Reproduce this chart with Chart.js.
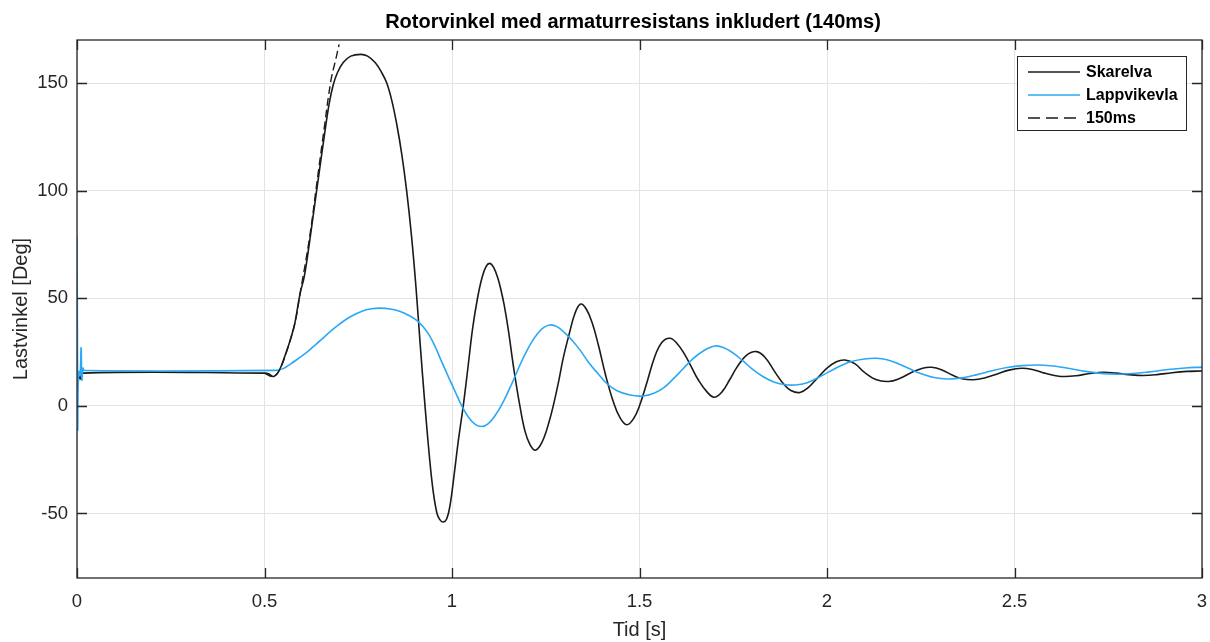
<!DOCTYPE html>
<html>
<head>
<meta charset="utf-8">
<title>Rotorvinkel med armaturresistans inkludert</title>
<script src="https://cdn.jsdelivr.net/npm/chart.js@4.4.1/dist/chart.umd.min.js"></script>
<style>
  html, body { margin: 0; padding: 0; background: #fff; }
  #wrap { width: 1210px; height: 642px; }
</style>
</head>
<body>
<div id="wrap"><canvas id="myChart" width="1210" height="642"></canvas></div>
<script>
var chartTitle = 'Rotorvinkel med armaturresistans inkludert (140ms)';
var xLabel = 'Tid [s]';
var yLabel = 'Lastvinkel [Deg]';
var seriesNames = ['Skarelva', 'Lappvikevla', '150ms'];
var xTicks = [0, 0.5, 1, 1.5, 2, 2.5, 3];
var yTicks = [-50, 0, 50, 100, 150];

// Skarelva (svart)
var tSkarelva = [0, 0.003, 0.006, 0.010, 0.015, 0.500, 0.512, 0.523, 0.532, 0.541, 0.552, 0.563, 0.572, 0.581,
    0.595, 0.606, 0.620, 0.639, 0.660, 0.672, 0.683, 0.695, 0.710, 0.730, 0.757, 0.775, 0.795, 0.812, 0.826,
    0.840, 0.853, 0.866, 0.879, 0.892, 0.904, 0.915, 0.928, 0.940, 0.950, 0.960, 0.968, 0.977, 0.986, 0.995,
    1.005, 1.017, 1.030, 1.042, 1.055, 1.068, 1.080, 1.091, 1.101, 1.111, 1.122, 1.131, 1.139, 1.150, 1.165,
    1.181, 1.195, 1.208, 1.221, 1.234, 1.246, 1.258, 1.270, 1.284, 1.297, 1.312, 1.328, 1.343, 1.358, 1.374,
    1.390, 1.410, 1.430, 1.448, 1.466, 1.484, 1.500, 1.520, 1.540, 1.560, 1.581, 1.600, 1.620, 1.640, 1.657,
    1.680, 1.699, 1.720, 1.740, 1.760, 1.785, 1.812, 1.835, 1.860, 1.885, 1.905, 1.928, 1.950, 1.975, 2.000,
    2.025, 2.048, 2.075, 2.100, 2.130, 2.164, 2.195, 2.225, 2.255, 2.279, 2.305, 2.335, 2.360, 2.390, 2.420,
    2.450, 2.485, 2.519, 2.550, 2.580, 2.610, 2.635, 2.665, 2.700, 2.737, 2.770, 2.805, 2.843, 2.880, 2.920,
    2.960, 3.000];
var vSkarelva = [15.5, 11.3, 14, 12.5, 15.2, 15.2, 14.8, 13.6, 14.6, 17.0, 22, 27.5, 32.5, 38.4,
    52.3, 60, 76, 100, 126, 140, 149, 155, 159.5, 162.5, 163.3, 162.5, 159.5, 155, 150,
    141.5, 130.5, 117, 100, 79, 55, 29, 0, -24, -40, -50, -53, -54, -52.5, -46,
    -33, -16, 0, 17, 36, 50, 59.5, 64.8, 66.2, 64.3, 59.5, 53.5, 47, 35.5, 17,
    0, -12, -18, -20.6, -18.8, -14.5, -8, 0, 11, 22.5, 33, 43, 47.3, 45, 38.5,
    28.5, 14, 2, -5.5, -8.8, -6, 0, 11, 22.5, 29.5, 31.4, 29, 24, 17.5, 12,
    6.5, 4.0, 6.5, 12, 18, 23.5, 25.2, 22.5, 16, 10, 7, 6.2, 8.5, 13, 17.5,
    20.5, 21.3, 19.5, 15.5, 12.2, 11.3, 12.8, 15.5, 17.5, 17.9, 16.8, 14.2, 12.6, 12.1, 12.9,
    14.6, 16.6, 17.5, 16.8, 15.2, 14, 13.6, 14, 15, 15.6, 15.2, 14.5, 14.1, 14.5, 15.4,
    16, 16.2];

// Lappvikevla (blaa)
var tLappvikevla = [0, 0.001, 0.002, 0.004, 0.008, 0.011, 0.013, 0.016, 0.020, 0.530, 0.550, 0.570, 0.590, 0.610,
    0.630, 0.650, 0.675, 0.700, 0.730, 0.760, 0.785, 0.810, 0.835, 0.860, 0.885, 0.910, 0.935, 0.955, 0.970,
    0.986, 1.006, 1.026, 1.045, 1.062, 1.079, 1.096, 1.115, 1.137, 1.160, 1.180, 1.195, 1.212, 1.230, 1.245,
    1.261, 1.280, 1.300, 1.320, 1.341, 1.365, 1.390, 1.412, 1.440, 1.475, 1.510, 1.540, 1.565, 1.590, 1.615,
    1.640, 1.670, 1.701, 1.725, 1.750, 1.775, 1.800, 1.830, 1.860, 1.890, 1.915, 1.945, 1.975, 2.005, 2.035,
    2.065, 2.100, 2.132, 2.160, 2.190, 2.220, 2.250, 2.285, 2.323, 2.360, 2.400, 2.440, 2.480, 2.520, 2.568,
    2.610, 2.650, 2.690, 2.730, 2.773, 2.815, 2.860, 2.910, 2.955, 3.000];
var vLappvikevla = [78.6, 40, -11, 16, 14, 27, 12, 17.5, 16.4, 16.5, 17.3, 19.5, 22, 24.5,
    27.5, 30.5, 34.5, 38, 41.5, 44, 45.1, 45.4, 45, 44, 42, 39.1, 34, 27.5, 21.5,
    15.2, 7.5, 0, -5.5, -8.6, -9.6, -8.4, -4.5, 2, 10.5, 18.5, 24, 29.5, 34, 36.5,
    37.6, 36.8, 34, 30.5, 26, 20, 14.8, 10.5, 7, 5, 4.6, 6, 8.5, 12.5, 17,
    21.5, 25.5, 27.8, 27, 24.5, 21, 17.2, 13.5, 11, 9.8, 9.7, 10.6, 13, 15.8, 18.5,
    20.6, 21.8, 22.1, 21.4, 19.6, 17.2, 15, 13.2, 12.5, 13, 14.5, 16.3, 17.8, 18.7, 19.0,
    18.4, 17.2, 16, 15.1, 14.7, 15, 15.8, 16.9, 17.6, 18.0];

// 150ms (stiplet)
var t150ms = [0.5, 0.523, 0.541, 0.563, 0.581, 0.595, 0.620, 0.640, 0.660, 0.677, 0.690, 0.699];
var v150ms = [15.2, 13.6, 17, 27.5, 38.4, 52.3, 78, 104, 130, 151, 161, 168];

var textColor = '#262626';
var fontFamily = '"Liberation Sans", Arial, Helvetica, sans-serif';
var lineColors = ['#1a1a1a', '#2ba8f5', '#1a1a1a'];

function toPoints(t, v) {
    var pts = [];
    for (var i = 0; i < t.length; i++) {
        pts.push({ x: t[i], y: v[i] });
    }
    return pts;
}

var framePlugin = {
    id: 'frame',
    afterDatasetsDraw: function (chart) {
        var ctx = chart.ctx;
        var a = chart.chartArea;
        var xs = chart.scales.x;
        var ys = chart.scales.y;
        ctx.save();

        // boks og ticks innover
        ctx.strokeStyle = textColor;
        ctx.lineWidth = 1.3;
        ctx.strokeRect(a.left, a.top, a.right - a.left, a.bottom - a.top);
        ctx.beginPath();
        xTicks.forEach(function (v) {
            var px = Math.round(xs.getPixelForValue(v)) + 0.5;
            ctx.moveTo(px, a.bottom); ctx.lineTo(px, a.bottom - 10);
            ctx.moveTo(px, a.top); ctx.lineTo(px, a.top + 10);
        });
        yTicks.forEach(function (v) {
            var py = Math.round(ys.getPixelForValue(v)) + 0.5;
            ctx.moveTo(a.left, py); ctx.lineTo(a.left + 10, py);
            ctx.moveTo(a.right, py); ctx.lineTo(a.right - 10, py);
        });
        ctx.stroke();

        // tittel
        ctx.fillStyle = '#000';
        ctx.font = 'bold 20px ' + fontFamily;
        ctx.textAlign = 'center';
        ctx.textBaseline = 'middle';
        ctx.fillText(chartTitle, 633, 22);

        // legend
        var lx = 1017, ly = 56, lw = 169, lh = 74;
        ctx.fillStyle = '#fff';
        ctx.fillRect(lx, ly, lw, lh);
        ctx.lineWidth = 1;
        ctx.strokeStyle = textColor;
        ctx.strokeRect(lx + 0.5, ly + 0.5, lw, lh);
        var rows = [72, 95, 118];
        ctx.font = 'bold 16px ' + fontFamily;
        ctx.textAlign = 'left';
        for (var i = 0; i < seriesNames.length; i++) {
            ctx.beginPath();
            ctx.strokeStyle = lineColors[i];
            ctx.lineWidth = 1.5;
            ctx.setLineDash(i === 2 ? [12, 6] : []);
            ctx.moveTo(1028, rows[i]);
            ctx.lineTo(1080, rows[i]);
            ctx.stroke();
            ctx.setLineDash([]);
            ctx.fillStyle = '#000';
            ctx.fillText(seriesNames[i], 1086, rows[i] + 1);
        }
        ctx.restore();
    }
};

var ctx1 = document.getElementById('myChart').getContext('2d');
var myChart = new Chart(ctx1, {
    type: 'line',
    data: {
        datasets: [{
            label: seriesNames[0],
            data: toPoints(tSkarelva, vSkarelva),
            borderColor: lineColors[0],
            borderWidth: 1.6,
            order: 3
        }, {
            label: seriesNames[1],
            data: toPoints(tLappvikevla, vLappvikevla),
            borderColor: lineColors[1],
            borderWidth: 1.6,
            order: 2
        }, {
            label: seriesNames[2],
            data: toPoints(t150ms, v150ms),
            borderColor: lineColors[2],
            borderWidth: 1.4,
            borderDash: [8, 4],
            order: 1
        }]
    },
    options: {
        responsive: false,
        animation: false,
        parsing: false,
        layout: { padding: { left: 0, top: 40, right: 8, bottom: 0 } },
        elements: {
            point: { radius: 0 },
            line: { tension: 0.4, fill: false }
        },
        plugins: {
            legend: { display: false },
            title: { display: false },
            tooltip: { enabled: false }
        },
        scales: {
            x: {
                type: 'linear',
                min: 0,
                max: 3,
                afterBuildTicks: function (scale) {
                    scale.ticks = xTicks.map(function (v) { return { value: v }; });
                },
                afterFit: function (scale) {
                    scale.height = 64;
                    scale.paddingLeft = 0;
                    scale.paddingRight = 0;
                },
                grid: { color: '#e3e3e3', lineWidth: 1, drawTicks: false },
                border: { display: false },
                ticks: {
                    color: textColor,
                    padding: 13,
                    maxRotation: 0,
                    font: { family: fontFamily, size: 18.5 },
                    callback: function (v) { return String(v); }
                },
                title: {
                    display: true,
                    text: xLabel,
                    color: textColor,
                    padding: { top: 0, bottom: 0 },
                    font: { family: fontFamily, size: 20 }
                }
            },
            y: {
                type: 'linear',
                min: -80,
                max: 170,
                afterBuildTicks: function (scale) {
                    scale.ticks = yTicks.map(function (v) { return { value: v }; });
                },
                afterFit: function (scale) { scale.width = 77; },
                grid: { color: '#e3e3e3', lineWidth: 1, drawTicks: false },
                border: { display: false },
                ticks: {
                    color: textColor,
                    padding: 9,
                    font: { family: fontFamily, size: 18.5 },
                    callback: function (v) { return String(v); }
                },
                title: {
                    display: true,
                    text: yLabel,
                    color: textColor,
                    padding: { top: 9, bottom: 0 },
                    font: { family: fontFamily, size: 20 }
                }
            }
        }
    },
    plugins: [framePlugin]
});
</script>
</body>
</html>
